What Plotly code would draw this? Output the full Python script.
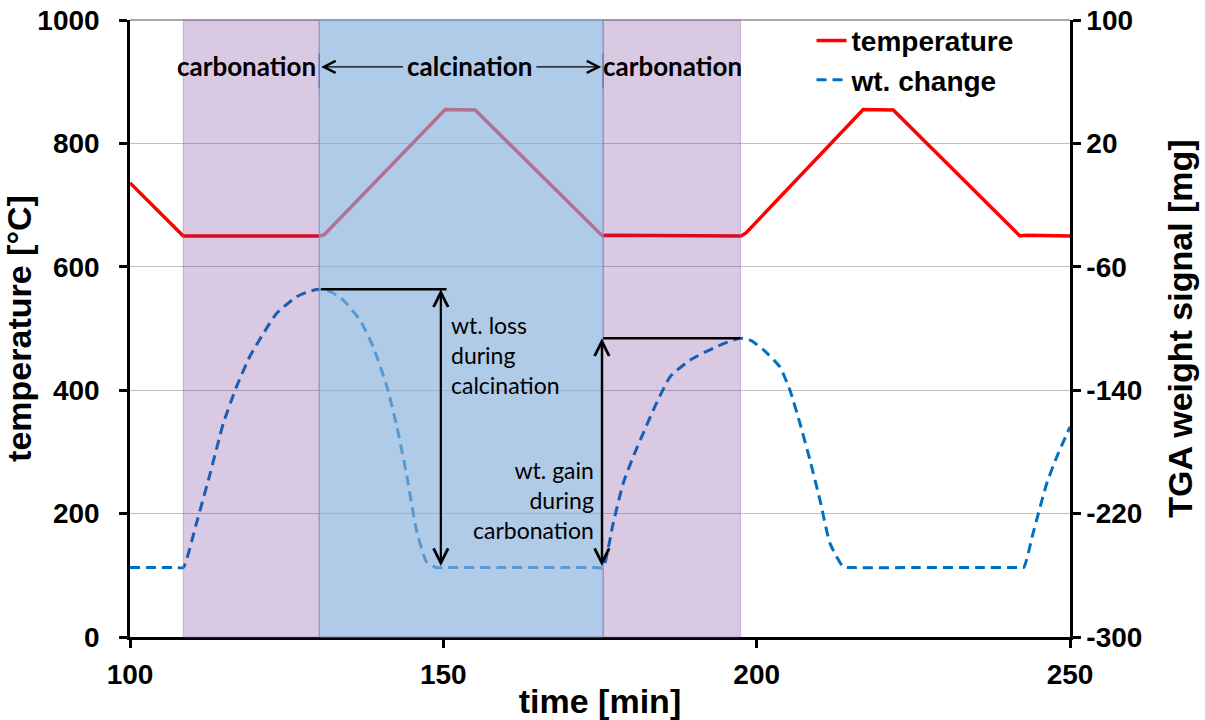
import plotly.graph_objects as go

# ---------------- data ----------------
temp_time = [100, 108.5, 130.3, 131.0, 150.3, 155.1, 175.4, 176.0, 197.5, 198.3, 217.0, 221.8, 242.0, 243.0, 250]
temp_vals = [736, 650, 650, 652, 855, 854, 650, 651, 650, 655, 855, 854, 650, 651, 650]

wt_time = [100, 104, 107.5, 108.5, 110.6, 112.8, 114.9, 117.0, 119.1, 121.3, 123.4, 126.6, 128.5, 130.3,
           132.2, 134.0, 136.7, 138.8, 141.0, 142.6, 144.2, 145.7, 147.3, 148.9, 150.5, 160, 170, 174.5,
           175.5, 177.1, 178.7, 180.3, 181.9, 184.0, 186.2, 189.4, 193.6, 197.3,
           199.2, 201.1, 203.7, 205.3, 206.9, 208.5, 210.1, 211.7, 213.8, 215.5, 225, 235, 241.6,
           242.6, 244.1, 246.3, 247.9, 250]
wt_vals = [-255, -255, -255, -255, -226.3, -193.9, -161.4, -137.7, -118.3, -103.1, -90.1, -79.4, -76.0, -74.6,
           -76.5, -81.5, -94.5, -111.8, -137.7, -163.7, -196.1, -230.6, -251.2, -255, -255, -255, -255, -255,
           -255, -226.3, -200.3, -183.1, -167.9, -148.5, -131.2, -120.4, -111.8, -106.3,
           -108.0, -113.9, -124.8, -139.9, -161.4, -185.2, -211.2, -239.3, -254.4, -255, -255, -255, -255,
           -255, -232.8, -200.3, -183.1, -163.7]

carb1 = [108.5, 130.2]
calc = [130.2, 175.5]
carb2 = [175.5, 197.4]

x_ticks = [100, 150, 200, 250]
y_ticks = [0, 200, 400, 600, 800, 1000]
y2_ticks = [-300, -220, -140, -60, 20, 100]
y2_labels = ["-300", "-220", "-140", "-60", "20", "100"]

wt_loss = [-74.6, -255]        # peak / baseline during calcination
wt_gain = [-106.3, -255]       # peak / baseline during carbonation
arrow_loss_x = 149.6
arrow_gain_x = 175.3

# ---------------- figure ----------------
AX_FONT = dict(family="Liberation Sans, Arial, sans-serif", size=28, color="black", weight="bold")
TITLE_FONT = dict(family="Liberation Sans, Arial, sans-serif", size=34, color="black", weight="bold")
CAL = "Lato, Carlito, Calibri, sans-serif"

fig = go.Figure()
fig.add_trace(go.Scatter(x=temp_time, y=temp_vals, mode="lines", name="temperature",
                         line=dict(color="#ff0000", width=3.5), legendgroup="a"))
fig.add_trace(go.Scatter(x=wt_time, y=wt_vals, mode="lines", name="wt. change", yaxis="y2",
                         line=dict(color="#0070c0", width=3, dash="10px,6px", shape="spline", smoothing=0.5),
                         legendgroup="b"))

shapes = []
for rng, col, edge in [(carb1, "rgba(103,39,143,0.25)", "rgba(150,120,190,0.5)"),
                       (calc, "rgba(133,175,220,0.65)", "rgba(120,140,210,0.8)"),
                       (carb2, "rgba(103,39,143,0.25)", "rgba(150,120,190,0.5)")]:
    shapes.append(dict(type="rect", xref="x", yref="paper", x0=rng[0], x1=rng[1], y0=0, y1=1,
                       fillcolor=col, line=dict(color=edge, width=1), layer="above"))
# horizontal reference lines at weight peaks
shapes.append(dict(type="line", xref="x", yref="y2", x0=calc[0] + 0.3, x1=arrow_loss_x + 0.9,
                   y0=wt_loss[0], y1=wt_loss[0], line=dict(color="black", width=2.5), layer="above"))
shapes.append(dict(type="line", xref="x", yref="y2", x0=calc[1], x1=carb2[1],
                   y0=wt_gain[0], y1=wt_gain[0], line=dict(color="black", width=2.5), layer="above"))
# small boundary markers near the calcination label
for xb in [calc[0], calc[1]]:
    shapes.append(dict(type="line", xref="x", yref="y", x0=xb, x1=xb, y0=889, y1=946,
                       line=dict(color="#6b7fa8", width=1.5), layer="above"))

annotations = []
# double-headed vertical arrows
for xa, (ytop, ybot) in [(arrow_loss_x, wt_loss), (arrow_gain_x, wt_gain)]:
    annotations.append(dict(x=xa, y=ytop, ax=xa, ay=ybot, xref="x", yref="y2", axref="x", ayref="y2",
                            text="", showarrow=True, arrowside="end+start", arrowhead=5,
                            startarrowhead=5, arrowsize=1.3, startarrowsize=1.3,
                            arrowwidth=2.2, arrowcolor="black", standoff=0, startstandoff=0))
# horizontal arrows around "calcination"
annotations.append(dict(x=130.5, y=924, ax=143.8, ay=924, xref="x", yref="y", axref="x", ayref="y",
                        text="", showarrow=True, arrowhead=5, arrowsize=1.8, arrowwidth=1.3,
                        arrowcolor="black", standoff=0))
annotations.append(dict(x=175.2, y=924, ax=164.6, ay=924, xref="x", yref="y", axref="x", ayref="y",
                        text="", showarrow=True, arrowhead=5, arrowsize=1.8, arrowwidth=1.3,
                        arrowcolor="black", standoff=0))
# phase labels
for txt, xc in [("carbonation", 118.6), ("calcination", 154.25), ("carbonation", 186.6)]:
    annotations.append(dict(x=xc, y=926, xref="x", yref="y", text=txt, showarrow=False,
                            font=dict(family=CAL, size=26, color="black", weight="bold")))
annotations.append(dict(x=150.9, y=457, xref="x", yref="y", text="wt. loss<br>during<br>calcination",
                        showarrow=False, xanchor="left", align="left",
                        font=dict(family=CAL, size=23, color="black")))
annotations.append(dict(x=174.4, y=222, xref="x", yref="y", text="wt. gain<br>during<br>carbonation",
                        showarrow=False, xanchor="right", align="right",
                        font=dict(family=CAL, size=23, color="black")))

fig.update_layout(
    width=1205, height=720,
    margin=dict(l=130, r=135, t=20, b=83, autoexpand=False),
    plot_bgcolor="white", paper_bgcolor="white",
    showlegend=True,
    legend=dict(x=0.725, y=1.007, xanchor="left", yanchor="top", bgcolor="rgba(0,0,0,0)",
                font=dict(family="Liberation Sans, Arial, sans-serif", size=28, color="black", weight="bold"),
                tracegroupgap=0),
    xaxis=dict(range=[100, 250], tickvals=x_ticks, showgrid=False, zeroline=False, automargin=False,
               showline=True, linecolor="black", linewidth=2.5, ticklabeloverflow="allow",
               ticks="outside", ticklen=8, tickwidth=2.5, tickcolor="black", ticklabelstandoff=3,
               tickfont=AX_FONT, title=dict(text="time [min]", font=TITLE_FONT, standoff=0)),
    yaxis=dict(range=[0, 1000], tickvals=y_ticks, showgrid=True, gridcolor="#bfbfbf", gridwidth=1,
               zeroline=False, showline=True, linecolor="black", linewidth=2.5, automargin=False,
               ticks="outside", ticklen=8, tickwidth=2.5, tickcolor="black", ticklabelstandoff=14,
               ticklabeloverflow="allow",
               tickfont=AX_FONT, title=dict(text="temperature [°C]", font=TITLE_FONT, standoff=0)),
    yaxis2=dict(range=[-300, 100], tickvals=y2_ticks, ticktext=y2_labels, overlaying="y", side="right",
                showgrid=False, automargin=False, ticklabeloverflow="allow",
                zeroline=False, showline=True, linecolor="black", linewidth=2.5,
                ticks="outside", ticklen=8, tickwidth=2.5, tickcolor="black",
                tickfont=AX_FONT, title=dict(text="TGA weight signal [mg]", font=TITLE_FONT, standoff=27)),
    shapes=shapes,
    annotations=annotations,
)
# top border line
fig.add_shape(type="line", xref="paper", yref="paper", x0=0, x1=1, y0=1, y1=1,
              line=dict(color="#8c8c8c", width=1.5), layer="below")

# remove the default 8px page margin so the figure sits at the window's corner
fig.write_html("out.html", config={"displayModeBar": False},
               post_script="document.body.style.margin='0';")
